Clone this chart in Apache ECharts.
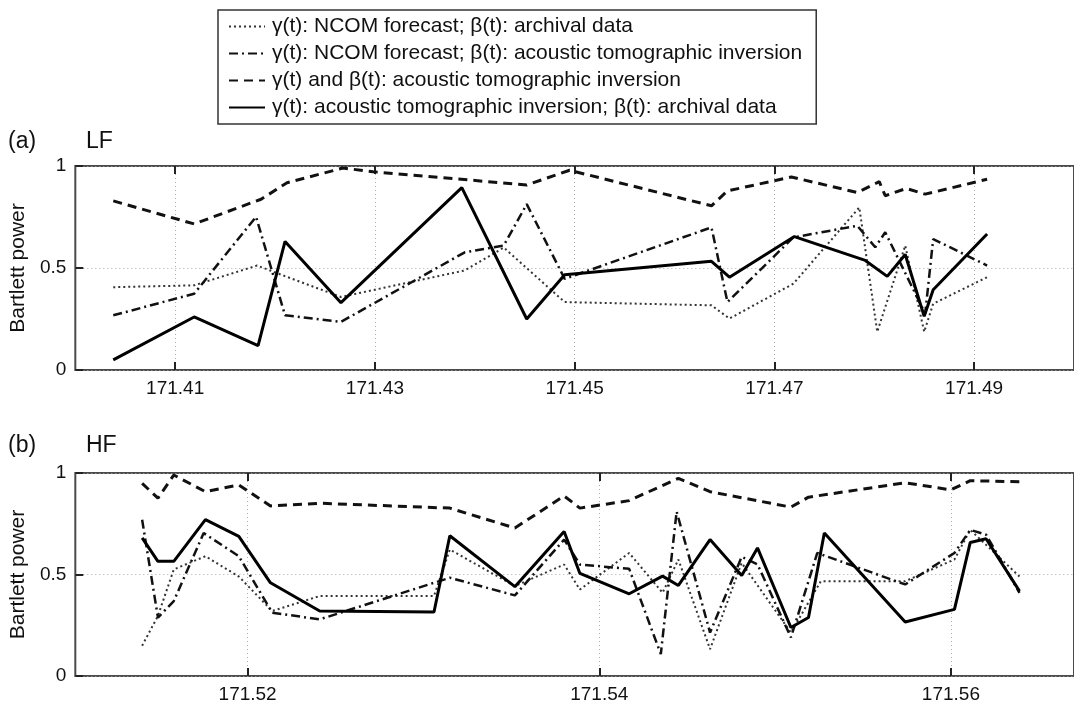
<!DOCTYPE html>
<html>
<head>
<meta charset="utf-8">
<script src="https://cdn.jsdelivr.net/npm/echarts@6/dist/echarts.min.js"></script>
<style>
  html, body { margin: 0; padding: 0; background: #fff; }
  #chart { width: 1074px; height: 704px; }
</style>
</head>
<body>
<div id="chart"></div>
<script>
// series names (legend order)
const names = [
  "γ(t): NCOM forecast; β(t): archival data",
  "γ(t): NCOM forecast; β(t): acoustic tomographic inversion",
  "γ(t) and β(t): acoustic tomographic inversion",
  "γ(t): acoustic tomographic inversion; β(t): archival data",
];

// (a) LF  -- [time, Bartlett power]
const lfDotted = [[171.4038,0.406],[171.4119,0.415],[171.4182,0.512],[171.4210,0.46],[171.4266,0.358],
  [171.4390,0.488],[171.4429,0.60],[171.4490,0.333],[171.4637,0.317],[171.4655,0.252],[171.4719,0.423],
  [171.4785,0.797],[171.4803,0.187],[171.4831,0.61],[171.4850,0.187],[171.4859,0.325],[171.4913,0.455]];
const lfDashDot = [[171.4038,0.268],[171.4119,0.374],[171.4181,0.751],[171.4210,0.268],[171.4266,0.236],
  [171.4390,0.577],[171.4429,0.61],[171.4452,0.813],[171.4490,0.447],[171.4637,0.699],[171.4653,0.333],
  [171.4719,0.65],[171.4783,0.707],[171.4801,0.602],[171.4811,0.675],[171.4851,0.276],[171.4859,0.642],[171.4913,0.512]];
const lfDashed = [[171.4038,0.829],[171.4119,0.716],[171.4186,0.837],[171.4212,0.918],[171.4268,0.99],
  [171.4298,0.972],[171.4452,0.907],[171.4495,0.979],[171.4637,0.805],[171.4653,0.878],[171.4717,0.946],
  [171.4783,0.87],[171.4805,0.923],[171.4811,0.854],[171.4832,0.89],[171.4851,0.862],[171.4913,0.935]];
const lfSolid = [[171.4038,0.05],[171.4119,0.26],[171.4183,0.12],[171.4210,0.63],[171.4266,0.33],
  [171.4387,0.894],[171.4452,0.25],[171.4490,0.467],[171.4637,0.533],[171.4655,0.455],[171.4720,0.654],
  [171.4791,0.537],[171.4813,0.459],[171.4831,0.566],[171.4850,0.263],[171.4859,0.393],[171.4913,0.667]];

// (b) HF
const hfDotted = [[171.5140,0.149],[171.5149,0.296],[171.5158,0.525],[171.5176,0.59],[171.5195,0.49],
  [171.5214,0.32],[171.5241,0.394],[171.5306,0.394],[171.5315,0.623],[171.5352,0.443],[171.5380,0.549],
  [171.5389,0.426],[171.5417,0.606],[171.5436,0.41],[171.5445,0.574],[171.5463,0.132],[171.5481,0.557],
  [171.5509,0.214],[171.5526,0.467],[171.5574,0.467],[171.5602,0.574],[171.5611,0.72],[171.5639,0.49]];
const hfDashDot = [[171.5140,0.77],[171.5149,0.288],[171.5158,0.369],[171.5175,0.704],[171.5195,0.59],
  [171.5214,0.312],[171.5241,0.279],[171.5315,0.484],[171.5352,0.397],[171.5380,0.672],[171.5389,0.549],
  [171.5417,0.528],[171.5435,0.108],[171.5444,0.81],[171.5463,0.214],[171.5481,0.587],[171.5490,0.55],
  [171.5509,0.19],[171.5524,0.606],[171.5574,0.451],[171.5602,0.606],[171.5611,0.72],[171.5620,0.696],[171.5639,0.41]];
const hfDashed = [[171.5140,0.949],[171.5149,0.876],[171.5158,0.99],[171.5176,0.908],[171.5195,0.941],
  [171.5213,0.838],[171.5241,0.851],[171.5315,0.827],[171.5352,0.729],[171.5380,0.887],[171.5389,0.827],
  [171.5417,0.864],[171.5445,0.974],[171.5463,0.908],[171.5509,0.832],[171.5519,0.881],[171.5574,0.952],
  [171.5600,0.917],[171.5611,0.962],[171.5639,0.957]];
const hfSolid = [[171.5140,0.68],[171.5149,0.565],[171.5158,0.565],[171.5176,0.77],[171.5195,0.688],
  [171.5213,0.459],[171.5241,0.32],[171.5306,0.315],[171.5315,0.691],[171.5352,0.44],[171.5380,0.712],
  [171.5389,0.505],[171.5417,0.405],[171.5436,0.492],[171.5445,0.446],[171.5463,0.672],[171.5481,0.495],
  [171.5490,0.631],[171.5509,0.239],[171.5519,0.288],[171.5528,0.704],[171.5574,0.266],[171.5602,0.328],
  [171.5611,0.658],[171.5620,0.676],[171.5639,0.418]];

const lfTicks = [171.41, 171.43, 171.45, 171.47, 171.49];
const hfTicks = [171.52, 171.54, 171.56];

const FONT = "Liberation Sans";
const styles = [
  { color: "#333", width: 2, type: [2, 3] },
  { color: "#111", width: 2.5, type: [9, 4, 2, 4] },
  { color: "#111", width: 3, type: [9, 6] },
  { color: "#000", width: 3, type: "solid" },
];

function xBottom(gridIndex, min, max, ticks) {
  return {
    type: "value", gridIndex, min, max, position: "bottom",
    axisLine: { show: false },
    axisTick: { inside: true, length: 8, customValues: ticks, lineStyle: { color: "#222", width: 2 } },
    axisLabel: { customValues: ticks, formatter: v => v.toFixed(2), color: "#111",
      fontFamily: FONT, fontSize: 19, margin: 9 },
    splitLine: { show: true, lineStyle: { color: "#aaa", type: [1, 3], width: 1 } },
  };
}
function xTop(gridIndex, min, max, ticks) {
  return {
    type: "value", gridIndex, min, max, position: "top",
    axisLine: { show: false },
    axisTick: { inside: true, length: 8, customValues: ticks, lineStyle: { color: "#222", width: 2 } },
    axisLabel: { show: false },
    splitLine: { show: false },
  };
}
function yAxis(gridIndex) {
  return {
    type: "value", gridIndex, min: 0, max: 1, interval: 0.5,
    name: "Bartlett power", nameLocation: "middle", nameRotate: 90, nameGap: 33,
    nameTextStyle: { fontFamily: FONT, fontSize: 21, color: "#111" },
    axisLine: { show: false },
    axisTick: { inside: true, length: 8, lineStyle: { color: "#222", width: 2 } },
    axisLabel: { formatter: v => String(v), color: "#111", fontFamily: FONT, fontSize: 19, margin: 9 },
    splitLine: { show: true, lineStyle: { color: "#aaa", type: [1, 3], width: 1 } },
  };
}
function lines(sets, xIdx, yIdx) {
  return sets.map((d, i) => ({
    name: names[i], type: "line", data: d, xAxisIndex: xIdx, yAxisIndex: yIdx,
    showSymbol: false, symbol: "none", animation: false, z: 2 + i,
    lineStyle: styles[i], itemStyle: { color: styles[i].color },
  }));
}

const chart = echarts.init(document.getElementById("chart"), null, { renderer: "canvas" });
chart.setOption({
  backgroundColor: "#fff",
  animation: false,
  textStyle: { fontFamily: FONT },
  title: [
    { text: "(a)", left: 8, top: 130 },
    { text: "LF", left: 86, top: 130 },
    { text: "(b)", left: 8, top: 434 },
    { text: "HF", left: 86, top: 434 },
  ].map(t => ({ ...t, padding: 0, textStyle: { fontFamily: FONT, fontSize: 23, fontWeight: "normal", color: "#111" } })),
  legend: {
    data: names, orient: "vertical", left: 218, top: 10,
    padding: [6, 14, 6, 10], itemGap: 6, itemWidth: 36, itemHeight: 14,
    borderColor: "#333", borderWidth: 1.5, backgroundColor: "#fff",
    itemStyle: { opacity: 0 },
    textStyle: { fontFamily: FONT, fontSize: 21, color: "#111", padding: [0, 0, 0, 2] },
  },
  grid: [
    { left: 72, top: 166, width: 1011, height: 204, show: true, borderColor: "#4a4a4a", borderWidth: 2 },
    { left: 72, top: 473, width: 1011, height: 204, show: true, borderColor: "#4a4a4a", borderWidth: 2 },
  ],
  xAxis: [
    xBottom(0, 171.40, 171.50, lfTicks), xTop(0, 171.40, 171.50, lfTicks),
    xBottom(1, 171.5102, 171.5670, hfTicks), xTop(1, 171.5102, 171.5670, hfTicks),
  ],
  yAxis: [yAxis(0), yAxis(1)],
  series: [
    ...lines([lfDotted, lfDashDot, lfDashed, lfSolid], 0, 0),
    ...lines([hfDotted, hfDashDot, hfDashed, hfSolid], 2, 1),
  ],
});
</script>
</body>
</html>
